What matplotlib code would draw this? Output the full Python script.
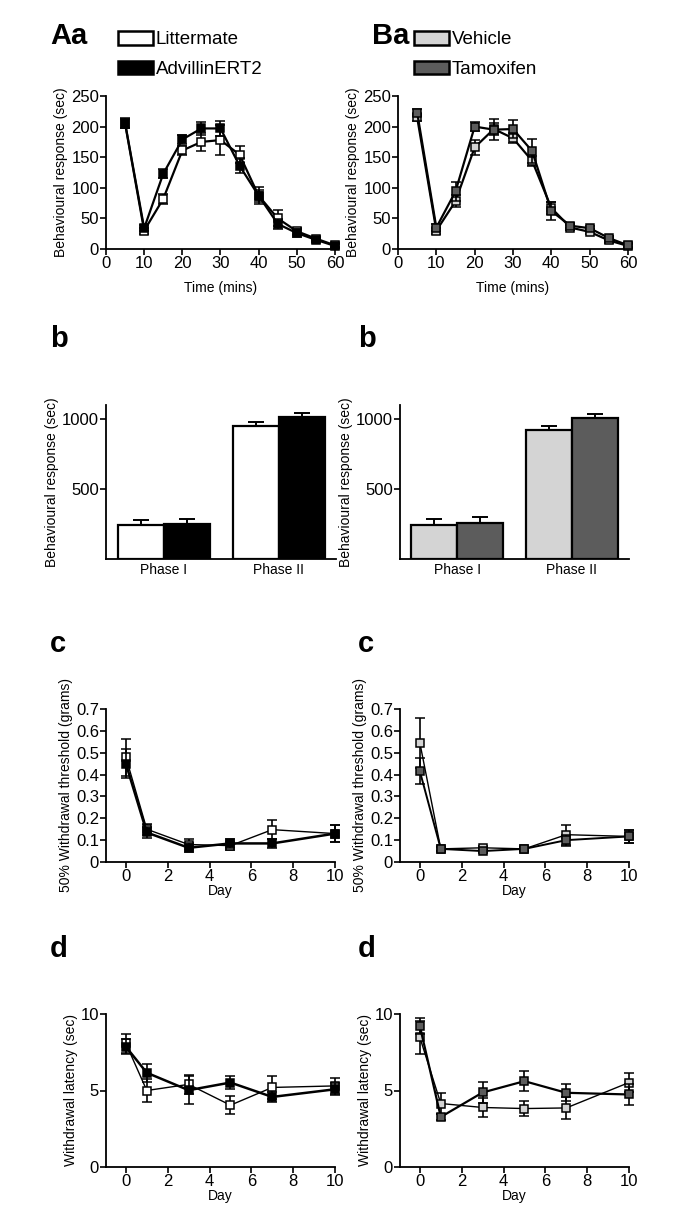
import matplotlib
matplotlib.use("Agg")
import matplotlib.pyplot as plt
from matplotlib.patches import Patch

plt.rcParams['font.family'] = ['Liberation Sans', 'DejaVu Sans']

W, H = 685, 1226

# --- time course (formalin test) ---
time_mins = [5, 10, 15, 20, 25, 30, 35, 40, 45, 50, 55, 60]
litter_time = [205, 30, 82, 161, 175, 178, 154, 87, 50, 29, 17, 6]
litter_time_err = [8, 5, 8, 8, 15, 25, 14, 14, 13, 6, 3, 3]
advil_time = [206, 34, 123, 179, 197, 197, 136, 87, 41, 26, 15, 5]
advil_time_err = [8, 5, 7, 8, 10, 12, 12, 10, 8, 6, 3, 3]
vehicle_time = [215, 30, 78, 166, 196, 181, 144, 67, 35, 28, 14, 5]
vehicle_time_err = [6, 5, 10, 12, 10, 8, 8, 10, 4, 4, 4, 3]
tamox_time = [223, 35, 94, 200, 195, 196, 160, 62, 38, 34, 18, 6]
tamox_time_err = [6, 6, 15, 7, 17, 15, 20, 15, 4, 4, 4, 3]

# --- phases ---
phases = ['Phase I', 'Phase II']
litter_phase = [245, 950]
litter_phase_err = [35, 28]
advil_phase = [252, 1014]
advil_phase_err = [36, 29]
vehicle_phase = [245, 921]
vehicle_phase_err = [43, 29]
tamox_phase = [259, 1007]
tamox_phase_err = [43, 29]

# --- von Frey ---
days = [0, 1, 3, 5, 7, 10]
litter_vf = [0.48, 0.15, 0.08, 0.075, 0.148, 0.13]
litter_vf_err = [0.085, 0.025, 0.025, 0.02, 0.042, 0.04]
advil_vf = [0.45, 0.135, 0.065, 0.085, 0.085, 0.13]
advil_vf_err = [0.065, 0.025, 0.02, 0.02, 0.02, 0.04]
vehicle_vf = [0.545, 0.06, 0.065, 0.06, 0.125, 0.117]
vehicle_vf_err = [0.115, 0.01, 0.01, 0.01, 0.045, 0.03]
tamox_vf = [0.415, 0.06, 0.05, 0.06, 0.10, 0.117]
tamox_vf_err = [0.06, 0.01, 0.01, 0.01, 0.025, 0.03]

# --- Hargreaves ---
litter_hg = [8.08, 5.0, 5.4, 4.04, 5.2, 5.3]
litter_hg_err = [0.6, 0.75, 0.6, 0.6, 0.75, 0.5]
advil_hg = [7.86, 6.16, 5.02, 5.52, 4.58, 5.08]
advil_hg_err = [0.5, 0.6, 0.9, 0.4, 0.3, 0.4]
vehicle_hg = [8.47, 4.15, 3.89, 3.82, 3.86, 5.52]
vehicle_hg_err = [1.1, 0.7, 0.65, 0.5, 0.7, 0.6]
tamox_hg = [9.21, 3.27, 4.87, 5.61, 4.85, 4.74]
tamox_hg_err = [0.5, 0.2, 0.7, 0.65, 0.55, 0.7]

WHITE, BLACK = 'white', 'black'
LIGHT, DARK = '#d4d4d4', '#5c5c5c'

fig = plt.figure(figsize=(W / 100, H / 100), dpi=100)


def px_axes(l, t, r, b):
    ax = fig.add_axes([l / W, 1 - b / H, (r - l) / W, (b - t) / H])
    for s in ('top', 'right'):
        ax.spines[s].set_visible(False)
    for s in ('left', 'bottom'):
        ax.spines[s].set_linewidth(1.3)
    ax.tick_params(direction='out', length=4, width=1.2, labelsize=12, pad=1)
    return ax


def line_series(ax, x, y, err, face, lw, z):
    ax.errorbar(x, y, yerr=err, color='black', lw=lw, marker='s', ms=6,
                mfc=face, mec='black', mew=1.1, ecolor='black', elinewidth=1.2,
                capsize=3.5, capthick=1.2, zorder=z, clip_on=False)


def time_panel(ax, s1, e1, c1, s2, e2, c2):
    line_series(ax, time_mins, s1, e1, c1, 1.6, 3)
    line_series(ax, time_mins, s2, e2, c2, 1.6, 4)
    ax.set_xlim(0, 60)
    ax.set_ylim(0, 250)
    ax.set_xticks(range(0, 61, 10))
    ax.set_yticks(range(0, 251, 50))
    ax.set_xlabel('Time (mins)', fontsize=10, labelpad=7)


def bar_panel(ax, v1, e1, c1, v2, e2, c2):
    xs = range(len(phases))
    w = 0.4
    ekw = dict(capsize=6, elinewidth=1.4, capthick=1.4)
    ax.bar([x - w / 2 for x in xs], v1, w, yerr=[[0] * len(e1), e1], color=c1,
           edgecolor='black', lw=1.6, error_kw=ekw)
    ax.bar([x + w / 2 for x in xs], v2, w, yerr=[[0] * len(e2), e2], color=c2,
           edgecolor='black', lw=1.6, error_kw=ekw)
    ax.set_xlim(-0.5, 1.5)
    ax.set_ylim(0, 1100)
    ax.set_yticks([500, 1000])
    ax.set_xticks(list(xs))
    ax.set_xticklabels(phases, fontsize=10)
    ax.tick_params(axis='x', length=0, pad=3)


def day_panel(ax, s1, e1, c1, lw1, s2, e2, c2, lw2):
    line_series(ax, days, s1, e1, c1, lw1, 3)
    line_series(ax, days, s2, e2, c2, lw2, 4)
    ax.set_xlim(-0.95, 10)
    ax.set_xticks(range(0, 11, 2))
    ax.set_xlabel('Day', fontsize=10, labelpad=0)


def legend(ax, handles, x):
    ax.legend(handles=handles, loc='upper left', bbox_to_anchor=(x / W, 1 - 31 / H),
              bbox_transform=fig.transFigure, frameon=False, fontsize=13.5,
              handlelength=1.85, handleheight=0.75, handletextpad=0.15,
              labelspacing=0.65, borderpad=0, borderaxespad=0)


# row a
ax = px_axes(106, 96, 335, 249)
time_panel(ax, litter_time, litter_time_err, WHITE, advil_time, advil_time_err, BLACK)
ax.set_ylabel('Behavioural response (sec)', fontsize=10, labelpad=2)
legend(ax, [Patch(fc=WHITE, ec='black', lw=1.8, label='Littermate'),
            Patch(fc=BLACK, ec='black', lw=1.8, label='AdvillinERT2')], 118)

ax = px_axes(398, 96, 628, 249)
time_panel(ax, vehicle_time, vehicle_time_err, LIGHT, tamox_time, tamox_time_err, DARK)
ax.set_ylabel('Behavioural response (sec)', fontsize=10, labelpad=2)
legend(ax, [Patch(fc=LIGHT, ec='black', lw=1.8, label='Vehicle'),
            Patch(fc=DARK, ec='black', lw=1.8, label='Tamoxifen')], 414)

# row b
ax = px_axes(106, 405, 336, 559)
bar_panel(ax, litter_phase, litter_phase_err, WHITE, advil_phase, advil_phase_err, BLACK)
ax.set_ylabel('Behavioural response (sec)', fontsize=10, labelpad=2)
ax = px_axes(400, 405, 629, 559)
bar_panel(ax, vehicle_phase, vehicle_phase_err, LIGHT, tamox_phase, tamox_phase_err, DARK)
ax.set_ylabel('Behavioural response (sec)', fontsize=10, labelpad=2)

# row c
for (l, r), data in zip([(106, 335), (400, 629)],
                        [(litter_vf, litter_vf_err, WHITE, 1.0, advil_vf, advil_vf_err, BLACK, 1.8),
                         (vehicle_vf, vehicle_vf_err, LIGHT, 1.0, tamox_vf, tamox_vf_err, DARK, 1.4)]):
    ax = px_axes(l, 709, r, 862)
    day_panel(ax, *data)
    ax.set_ylim(0, 0.7)
    ax.set_yticks([0, 0.1, 0.2, 0.3, 0.4, 0.5, 0.6, 0.7])
    ax.set_yticklabels(['0', '0.1', '0.2', '0.3', '0.4', '0.5', '0.6', '0.7'])
    ax.set_ylabel('50% Withdrawal threshold (grams)', fontsize=10, labelpad=2)

# row d
for (l, r), data in zip([(106, 335), (400, 629)],
                        [(litter_hg, litter_hg_err, WHITE, 1.0, advil_hg, advil_hg_err, BLACK, 1.8),
                         (vehicle_hg, vehicle_hg_err, LIGHT, 1.0, tamox_hg, tamox_hg_err, DARK, 1.6)]):
    ax = px_axes(l, 1014, r, 1167)
    day_panel(ax, *data)
    ax.set_ylim(0, 10)
    ax.set_yticks([0, 5, 10])
    ax.set_ylabel('Withdrawal latency (sec)', fontsize=10, labelpad=2)

# panel letters
for txt, x, y in [('Aa', 50, 44), ('Ba', 372, 44), ('b', 50, 347), ('b', 358, 347),
                  ('c', 50, 652), ('c', 358, 652), ('d', 50, 957), ('d', 358, 957)]:
    fig.text(x / W, 1 - y / H, txt, fontsize=21, fontweight='bold', va='baseline')

fig.savefig('out.png', dpi=100)
